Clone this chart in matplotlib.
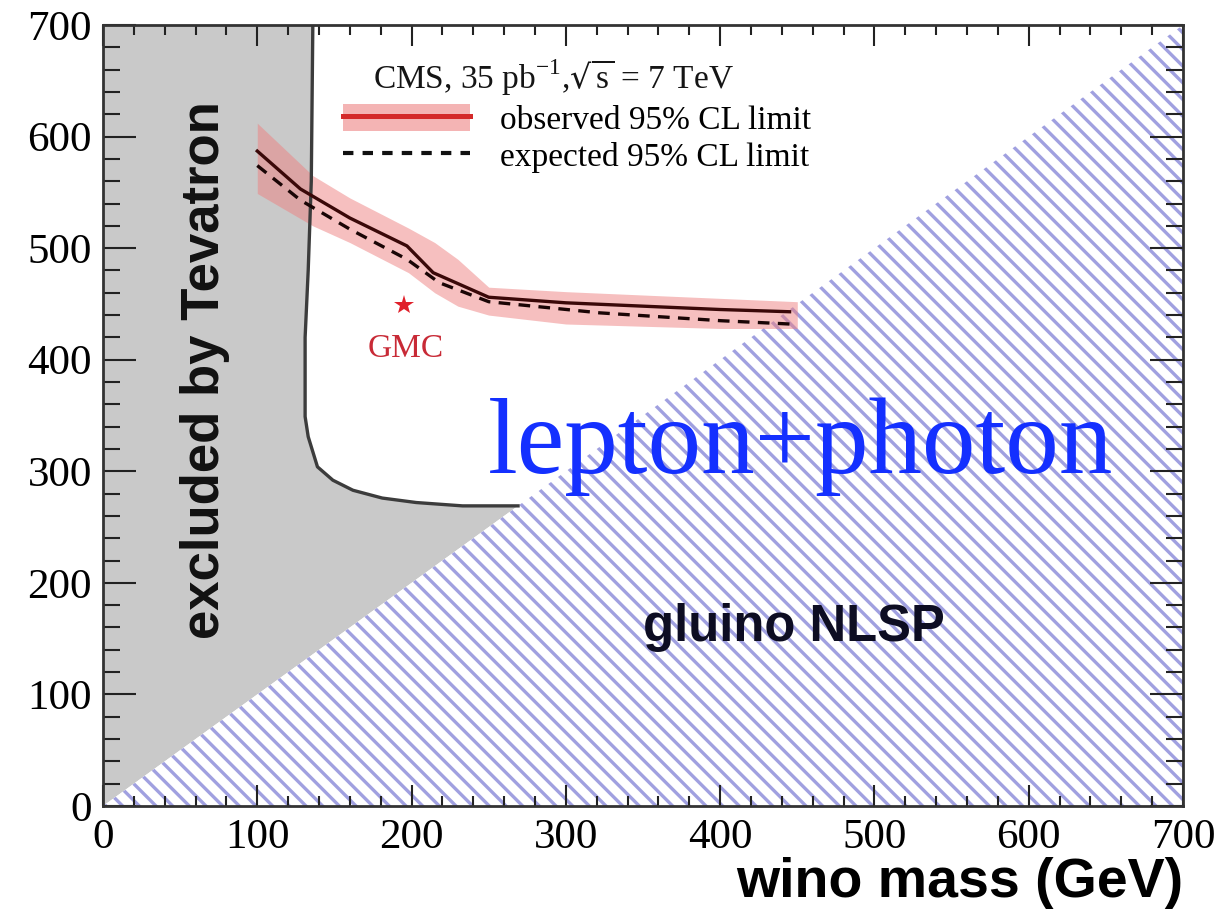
import matplotlib.pyplot as plt
from matplotlib.lines import Line2D
from matplotlib.patches import Patch
from matplotlib.ticker import MultipleLocator

plt.rcParams["hatch.linewidth"] = 2.4
plt.rcParams["hatch.color"] = "#a0a0e0"

# Tevatron exclusion contour (wino mass, gluino mass)
tev_x = [136, 135, 133, 131, 131, 133, 139, 149, 162, 181, 203, 233, 269]
tev_y = [700, 560, 480, 420, 349, 331, 304, 292, 283, 276, 272, 269, 269]

# gluino NLSP triangle (m_gluino < m_wino)
nlsp_x = [0, 700, 700]
nlsp_y = [0, 0, 700]

# observed limit
obs_x = [100, 128, 160, 197, 214, 250, 300, 350, 400, 445]
obs_y = [587, 553, 527, 502, 478, 456, 451, 448, 445, 443]

# expected limit
exp_x = [100, 128, 160, 197, 218, 250, 322, 400, 445]
exp_y = [574, 543, 517, 490, 469, 452, 442, 435, 432]

# theory uncertainty band on observed
band_x = [100, 136, 160, 198, 215, 230, 250, 300, 350, 400, 450]
band_hi = [612, 565, 545, 518, 505, 490, 465, 461, 458, 455, 452]
band_lo = [549, 520, 505, 478, 460, 448, 440, 432, 430, 428, 428]

gmc_x, gmc_y = 195, 449

fig = plt.figure(figsize=(12.26, 9.21), dpi=100)
ax = fig.add_axes([103 / 1226, 1 - 806 / 921, 1080 / 1226, 781 / 921])

# grey Tevatron region: left of contour, above diagonal
grey_x = [0, 0] + tev_x + [0]
grey_y = [0, 700] + tev_y + [0]
ax.fill(grey_x, grey_y, color="#c9c9c9", lw=0, zorder=0.5)
ax.plot(tev_x, tev_y, color="#3c3c3c", lw=2.4, zorder=1.5)

ax.fill(nlsp_x, nlsp_y, facecolor="white", edgecolor="#a0a0e0",
        hatch="\\\\", lw=0, zorder=0.6)

ax.fill_between(band_x, band_lo, band_hi, color="#ee8080", alpha=0.5,
                lw=0, zorder=1)
ax.plot(obs_x, obs_y, color="#3a0808", lw=2.4, zorder=2)
ax.plot(exp_x, exp_y, color="#1a0505", lw=2.4, ls=(0, (3.5, 2.5)), zorder=2)

ax.plot([gmc_x], [gmc_y], marker="*", ms=15, color="#e0202a", mew=0,
        zorder=3)
ax.text(gmc_x + 1, 410, "GMC", color="#c82a36", fontsize=24,
        family="Liberation Serif", ha="center", va="center")

ax.text(66, 391, "excluded by Tevatron", rotation=90, fontsize=38,
        fontweight="bold", family="Liberation Sans", ha="center",
        va="center", color="#111111")
ax.text(448, 160, "gluino NLSP", fontsize=36.5, fontweight="bold",
        family="Liberation Sans", ha="center", va="center",
        color="#0d0d22")
ax.text(452, 322, "lepton+photon", fontsize=77, family="Liberation Serif",
        color="#1430ff", ha="center", va="center", zorder=4)

ax.text(175, 653, r"CMS, 35 pb$^{\mathregular{-1}}$,$\sqrt{\mathregular{s}}$ = 7 TeV",
        fontsize=24, family="Liberation Serif", ha="left", va="center",
        color="#151515")

handles = [(Patch(facecolor="#f4b4b4", lw=0),
            Line2D([], [], color="#d42a2a", lw=3.6)),
           Line2D([], [], color="#111111", lw=3, ls=(0, (2.5, 2.2)))]
labels = ["observed 95% CL limit", "expected 95% CL limit"]
ax.legend(handles, labels, loc="upper left", bbox_to_anchor=(0.21, 0.916),
          frameon=False, prop={"family": "Liberation Serif", "size": 24},
          handlelength=3.8, handleheight=0.85, handletextpad=0.9,
          labelspacing=0.15, borderaxespad=0)

ax.set_xlim(0, 700)
ax.set_ylim(0, 700)
ax.xaxis.set_major_locator(MultipleLocator(100))
ax.yaxis.set_major_locator(MultipleLocator(100))
ax.xaxis.set_minor_locator(MultipleLocator(20))
ax.yaxis.set_minor_locator(MultipleLocator(20))
ax.tick_params(axis="both", which="both", direction="in", top=True,
               right=True, width=1.5, color="#222222")
ax.tick_params(axis="x", which="major", length=15, pad=9)
ax.tick_params(axis="x", which="minor", length=7)
ax.tick_params(axis="y", which="major", length=24, pad=8)
ax.tick_params(axis="y", which="minor", length=12)
for lab in ax.get_xticklabels() + ax.get_yticklabels():
    lab.set_family("Liberation Serif")
    lab.set_fontsize(31)
for sp in ax.spines.values():
    sp.set_linewidth(2)
    sp.set_color("#333333")
    sp.set_zorder(5)

ax.set_xlabel("wino mass (GeV)", loc="right", fontsize=40,
              fontweight="bold", family="Liberation Sans", labelpad=0)

fig.savefig("out.png", dpi=100)
